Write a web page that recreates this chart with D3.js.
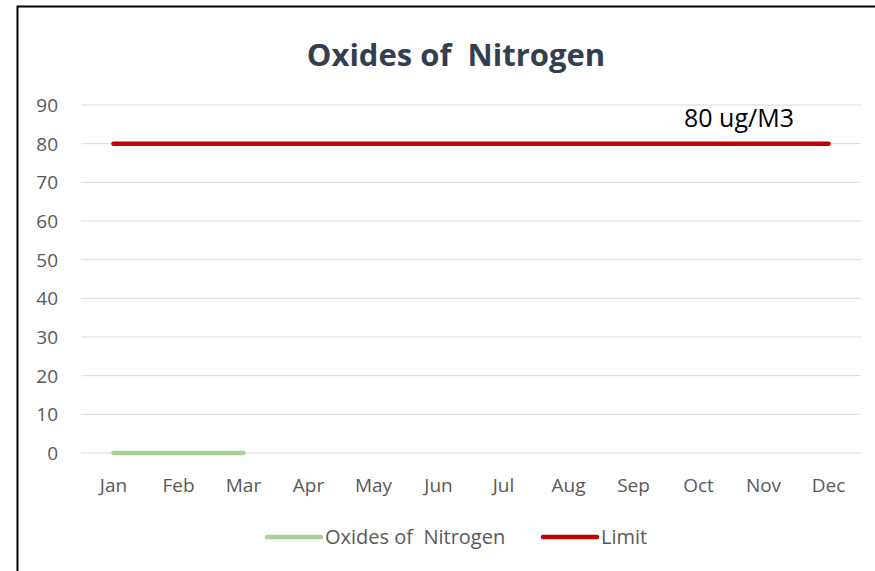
<!DOCTYPE html>
<html>
<head>
<meta charset="utf-8">
<script src="https://cdn.jsdelivr.net/npm/d3@7"></script>
<style>
  body { margin: 0; background: #fff; }
  svg { font-family: "Open Sans", "Liberation Sans", sans-serif; }
</style>
</head>
<body>
<svg id="chart" width="875" height="571"></svg>
<script>
// chart data
const months = ["Jan", "Feb", "Mar", "Apr", "May", "Jun", "Jul", "Aug", "Sep", "Oct", "Nov", "Dec"];
const noxValues = [0, 0, 0, null, null, null, null, null, null, null, null, null];
const limitValues = [80, 80, 80, 80, 80, 80, 80, 80, 80, 80, 80, 80];
const yTicks = [0, 10, 20, 30, 40, 50, 60, 70, 80, 90];
const seriesNames = ["Oxides of  Nitrogen", "Limit"];
const seriesColors = ["#A9D18E", "#C00000"];

const svg = d3.select("#chart");

// outer frame (only left and top edges fall inside the picture)
svg.append("rect")
  .attr("x", 17.5).attr("y", 6.5)
  .attr("width", 880).attr("height", 600)
  .attr("fill", "none").attr("stroke", "#000").attr("stroke-width", 2);

const plotLeft = 81, plotRight = 861, plotTop = 105, plotBottom = 453;

const x = d3.scalePoint().domain(months).range([plotLeft, plotRight]).padding(0.5);
const y = d3.scaleLinear().domain([0, 90]).range([plotBottom, plotTop]);

// gridlines
svg.append("g").selectAll("line")
  .data(yTicks)
  .join("line")
  .attr("x1", plotLeft).attr("x2", plotRight)
  .attr("y1", d => y(d)).attr("y2", d => y(d))
  .attr("stroke", "#D9D9D9").attr("stroke-width", 1);

// y tick labels
svg.append("g").selectAll("text")
  .data(yTicks)
  .join("text")
  .attr("x", 58).attr("y", d => y(d))
  .attr("dy", "0.36em")
  .attr("text-anchor", "end")
  .attr("font-size", 19).attr("fill", "#595959")
  .text(d => d);

// x tick labels
svg.append("g").selectAll("text")
  .data(months)
  .join("text")
  .attr("x", d => x(d)).attr("y", 492)
  .attr("text-anchor", "middle")
  .attr("font-size", 19).attr("fill", "#595959")
  .text(d => d);

// lines
const line = d3.line()
  .defined(d => d.v != null)
  .x(d => x(d.m))
  .y(d => y(d.v));

[noxValues, limitValues].forEach((vals, i) => {
  svg.append("path")
    .datum(months.map((m, j) => ({ m: m, v: vals[j] })))
    .attr("d", line)
    .attr("fill", "none")
    .attr("stroke", seriesColors[i])
    .attr("stroke-width", 4.5)
    .attr("stroke-linecap", "round");
});

// title
svg.append("text")
  .attr("x", 456).attr("y", 66)
  .attr("text-anchor", "middle")
  .attr("font-size", 31).attr("font-weight", "bold")
  .attr("fill", "#333F50")
  .style("white-space", "pre")
  .text("Oxides of  Nitrogen");

// limit annotation
svg.append("text")
  .attr("x", 739).attr("y", 127)
  .attr("text-anchor", "middle")
  .attr("font-size", 25).attr("fill", "#000")
  .text("80 ug/M3");

// legend
const legendX = [266, 542];
const legend = svg.append("g");
seriesNames.forEach((name, i) => {
  legend.append("line")
    .attr("x1", legendX[i] + 1).attr("x2", legendX[i] + 55)
    .attr("y1", 537).attr("y2", 537)
    .attr("stroke", seriesColors[i]).attr("stroke-width", 4.5)
    .attr("stroke-linecap", "round");
  legend.append("text")
    .attr("x", legendX[i] + 59).attr("y", 537)
    .attr("dy", "0.36em")
    .attr("font-size", 20).attr("fill", "#595959")
    .style("white-space", "pre")
    .text(name);
});
</script>
</body>
</html>
